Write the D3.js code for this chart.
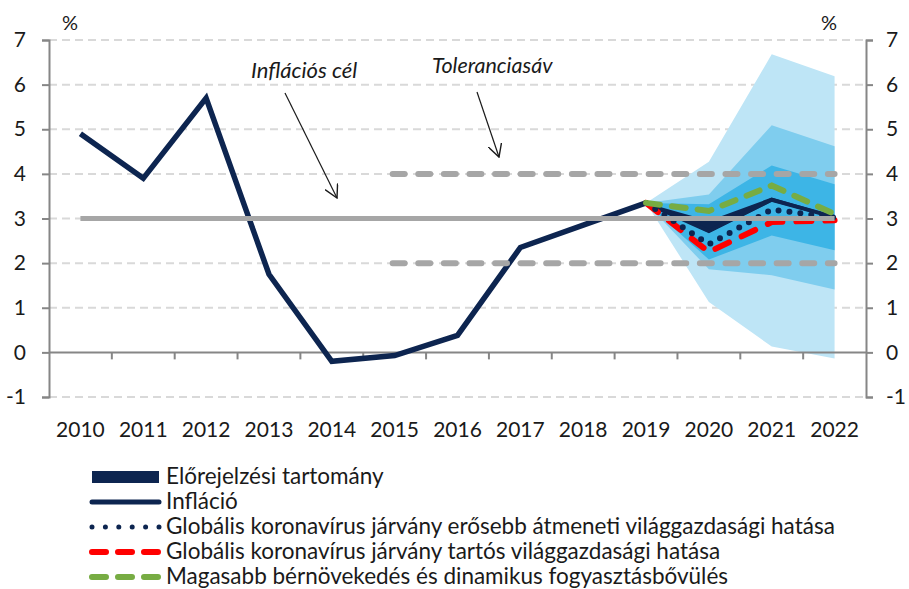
<!DOCTYPE html>
<html><head><meta charset="utf-8">
<script src="https://cdn.jsdelivr.net/npm/d3@7"></script>
<style>
body{margin:0;background:#fff;}
text{font-family:Lato,"Open Sans",sans-serif;fill:#1a1a1a;}
</style></head>
<body><svg id="c" width="909" height="589"></svg>
<script>
const years = ["2010","2011","2012","2013","2014","2015","2016","2017","2018","2019","2020","2021","2022"];
const inflation = [4.9,3.9,5.7,1.75,-0.2,-0.07,0.38,2.35,2.85,3.35];
const fcYears = ["2019","2020","2021","2022"];
const central = [3.35,2.72,3.42,3.03];
const navyUpper = [3.35,2.95,3.47,3.06];
const navyLower = [3.35,2.68,3.38,3.0];
const scenTransitory = [3.35,2.42,3.2,3.02];
const scenPersistent = [3.35,2.25,2.92,2.96];
const scenWage = [3.35,3.17,3.74,3.1];
const fanLightUpper = [3.35,4.27,6.68,6.19];
const fanLightLower = [3.35,1.13,0.13,-0.14];
const fanMidUpper = [3.35,3.54,5.09,4.62];
const fanMidLower = [3.35,1.86,1.73,1.41];
const fanInnerUpper = [3.35,3.32,4.19,3.77];
const fanInnerLower = [3.35,2.08,2.62,2.29];
const targetValue = 3;
const toleranceValues = [2,4];
const toleranceStart = "2015";
const yTicks = [-1,0,1,2,3,4,5,6,7];
const legendLabels = ["Előrejelzési tartomány","Infláció","Globális koronavírus járvány erősebb átmeneti világgazdasági hatása","Globális koronavírus járvány tartós világgazdasági hatása","Magasabb bérnövekedés és dinamikus fogyasztásbővülés"];

const svg = d3.select("#c");
const L = 49, R = 866, T = 40, B = 397;
const x = d3.scaleBand().domain(years).range([L,R]);
const cx = d => x(d) + x.bandwidth()/2;
const y = d3.scaleLinear().domain([-1,7]).range([B,T]);

const navy = "#0D2550", gray = "#A6A6A6", axisCol = "#868686";

// gridlines
svg.append("g").selectAll("line").data(yTicks.filter(v=>v!==0)).join("line")
  .attr("x1",L).attr("x2",R).attr("y1",d=>y(d)).attr("y2",d=>y(d))
  .attr("stroke","#D9D9D9").attr("stroke-width",2).attr("stroke-dasharray","8,5");

// fan
function band(up, lo, col){
  const a = d3.area().x((d,i)=>cx(fcYears[i])).y0((d,i)=>y(lo[i])).y1((d,i)=>y(up[i]));
  svg.append("path").datum(up).attr("d",a).attr("fill",col);
}
band(fanLightUpper, fanLightLower, "#BEE5F6");
band(fanMidUpper, fanMidLower, "#7FCDEE");
band(fanInnerUpper, fanInnerLower, "#3DB5E6");
band(navyUpper, navyLower, navy);

// x axis line at 0
svg.append("line").attr("x1",L).attr("x2",R).attr("y1",y(0)).attr("y2",y(0))
  .attr("stroke",axisCol).attr("stroke-width",2);
const bounds = years.map(d=>x(d)).concat([R]);
svg.append("g").selectAll("line").data(bounds.slice(1,-1)).join("line")
  .attr("x1",d=>d).attr("x2",d=>d).attr("y1",y(0)).attr("y2",y(0)+7)
  .attr("stroke",axisCol).attr("stroke-width",2);

// left / right axes
const fmt = d => String(d);
const la = svg.append("g").attr("transform",`translate(${L},0)`)
  .call(d3.axisLeft(y).tickValues(yTicks).tickSize(7).tickPadding(16).tickFormat(fmt));
const ra = svg.append("g").attr("transform",`translate(${R},0)`)
  .call(d3.axisRight(y).tickValues(yTicks).tickSize(7).tickPadding(13).tickFormat(fmt));
[la,ra].forEach(g=>{
  g.select(".domain").attr("stroke",axisCol).attr("stroke-width",2);
  g.selectAll(".tick line").attr("stroke",axisCol).attr("stroke-width",2);
  g.selectAll(".tick text").attr("font-size",21).attr("fill","#1a1a1a").attr("font-family","Lato");
});

// x labels
svg.append("g").selectAll("text").data(years).join("text")
  .attr("x",d=>cx(d)).attr("y",437).attr("text-anchor","middle").attr("font-size",21).text(d=>d);

// percent signs
svg.append("text").attr("x",70).attr("y",30).attr("text-anchor","middle").attr("font-size",20).text("%");
svg.append("text").attr("x",829).attr("y",30).attr("text-anchor","middle").attr("font-size",20).text("%");

// inflation line
const lineH = d3.line().x((d,i)=>cx(years[i])).y(d=>y(d));
svg.append("path").datum(inflation).attr("d",lineH).attr("fill","none")
  .attr("stroke",navy).attr("stroke-width",5.5).attr("stroke-linejoin","miter");
const lineF = d3.line().x((d,i)=>cx(fcYears[i])).y(d=>y(d));
svg.append("path").datum(central).attr("d",lineF).attr("fill","none")
  .attr("stroke",navy).attr("stroke-width",4);

// scenarios
svg.append("path").datum(scenPersistent).attr("d",lineF).attr("fill","none")
  .attr("stroke","#FF0000").attr("stroke-width",6).attr("stroke-linecap","round").attr("stroke-dasharray","15,14");
svg.append("path").datum(scenTransitory).attr("d",lineF).attr("fill","none")
  .attr("stroke",navy).attr("stroke-width",6).attr("stroke-linecap","round").attr("stroke-dasharray","0,11");
svg.append("path").datum(scenWage).attr("d",lineF).attr("fill","none")
  .attr("stroke","#77AC43").attr("stroke-width",6).attr("stroke-linecap","round").attr("stroke-dasharray","14,12");

// tolerance band
svg.append("g").selectAll("line").data(toleranceValues).join("line")
  .attr("x1",cx(toleranceStart)-2).attr("x2",cx("2022")).attr("y1",d=>y(d)).attr("y2",d=>y(d))
  .attr("stroke",gray).attr("stroke-width",6).attr("stroke-linecap","round").attr("stroke-dasharray","12,13.6");
// target
svg.append("line").attr("x1",cx("2010")).attr("x2",cx("2022")).attr("y1",y(targetValue)).attr("y2",y(targetValue))
  .attr("stroke",gray).attr("stroke-width",5);

// annotations
svg.append("defs").append("marker").attr("id","arr").attr("viewBox","0 0 12 12").attr("refX",11).attr("refY",6)
  .attr("markerWidth",14).attr("markerHeight",14).attr("markerUnits","userSpaceOnUse").attr("orient","auto")
  .append("path").attr("d","M0,0 L11,6 L0,12").attr("fill","none").attr("stroke","#1a1a1a").attr("stroke-width",1.2);
svg.append("text").attr("x",251).attr("y",78).attr("font-size",22).attr("font-style","italic").text("Inflációs cél");
svg.append("line").attr("x1",285).attr("y1",93).attr("x2",337).attr("y2",198)
  .attr("stroke","#1a1a1a").attr("stroke-width",1.2).attr("marker-end","url(#arr)");
svg.append("text").attr("x",432).attr("y",73).attr("font-size",21.5).attr("font-style","italic").text("Toleranciasáv");
svg.append("line").attr("x1",477).attr("y1",92).attr("x2",499).attr("y2",157)
  .attr("stroke","#1a1a1a").attr("stroke-width",1.2).attr("marker-end","url(#arr)");

// legend
const lg = svg.append("g");
const ly = i => 477 + i*25;
lg.append("rect").attr("x",92).attr("y",ly(0)-6).attr("width",67).attr("height",12).attr("fill",navy);
lg.append("line").attr("x1",92).attr("x2",159).attr("y1",ly(1)).attr("y2",ly(1)).attr("stroke",navy).attr("stroke-width",5).attr("stroke-linecap","round");
lg.append("line").attr("x1",92).attr("x2",159).attr("y1",ly(2)).attr("y2",ly(2)).attr("stroke",navy).attr("stroke-width",5).attr("stroke-linecap","round").attr("stroke-dasharray","0,13.4");
lg.append("line").attr("x1",92).attr("x2",159).attr("y1",ly(3)).attr("y2",ly(3)).attr("stroke","#FF0000").attr("stroke-width",6).attr("stroke-linecap","round").attr("stroke-dasharray","14,12");
lg.append("line").attr("x1",92).attr("x2",159).attr("y1",ly(4)).attr("y2",ly(4)).attr("stroke","#77AC43").attr("stroke-width",6).attr("stroke-linecap","round").attr("stroke-dasharray","14,12");
lg.selectAll("text").data(legendLabels).join("text")
  .attr("x",166).attr("y",(d,i)=>ly(i)+7).attr("font-size",22.5).text(d=>d);
</script></body></html>
